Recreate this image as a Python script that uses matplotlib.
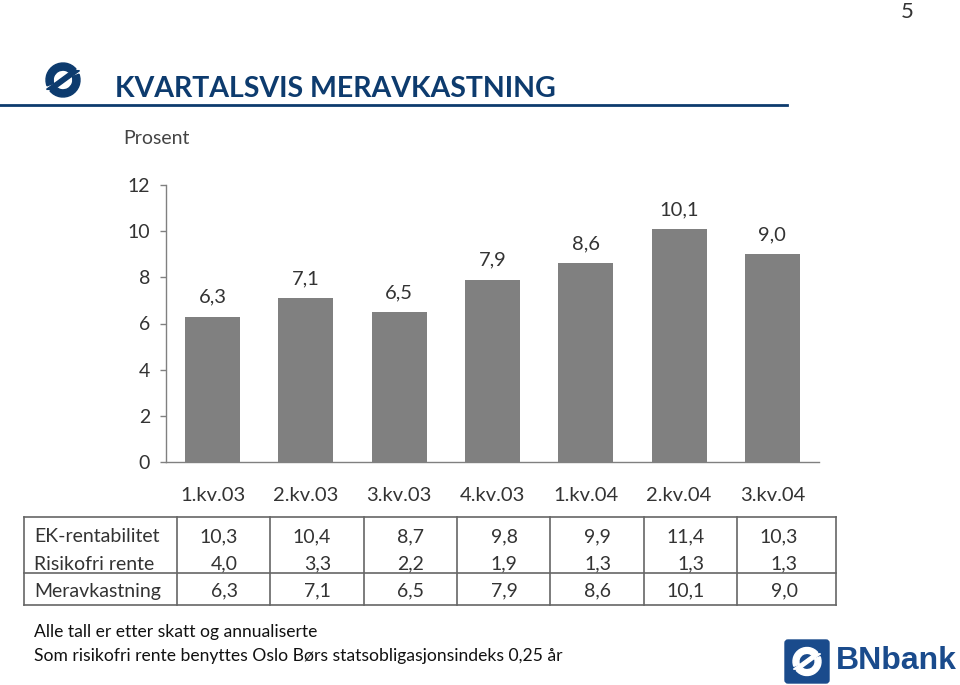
import matplotlib
matplotlib.use("Agg")
import matplotlib.pyplot as plt
from matplotlib.transforms import blended_transform_factory
from matplotlib.patches import Wedge, Polygon, FancyBboxPatch
from matplotlib.lines import Line2D

categories = ["1.kv.03", "2.kv.03", "3.kv.03", "4.kv.03", "1.kv.04", "2.kv.04", "3.kv.04"]
ek_rentabilitet = [10.3, 10.4, 8.7, 9.8, 9.9, 11.4, 10.3]
risikofri_rente = [4.0, 3.3, 2.2, 1.9, 1.3, 1.3, 1.3]
meravkastning = [6.3, 7.1, 6.5, 7.9, 8.6, 10.1, 9.0]
row_labels = ["EK-rentabilitet", "Risikofri rente", "Meravkastning"]
yticks = [0, 2, 4, 6, 8, 10, 12]

FONT = "Lato"
TXT = "#333333"
BLUE = "#0d3b6e"
GRAY = "#808080"

def fmt(v):
    return f"{v:.1f}".replace(".", ",")

W, H = 960, 685
fig = plt.figure(figsize=(W / 100, H / 100), dpi=100)
plt.rcParams['font.family'] = [FONT, 'DejaVu Sans']

def fx(px):
    return px / W

def fy(py):
    return 1 - py / H

ax = fig.add_axes([fx(166), fy(462), fx(819) - fx(166), fy(185) - fy(462)])
x = list(range(len(categories)))
ax.bar(x, meravkastning, width=0.59, color=GRAY, zorder=2)
ax.set_xlim(-0.5, 6.5)
ax.set_ylim(0, 12)
ax.set_yticks(yticks)
ax.set_yticklabels([str(t) for t in yticks], fontsize=14, color=TXT)
ax.set_xticks(x)
ax.set_xticklabels(categories, fontsize=14.5, color=TXT)
ax.tick_params(axis="x", length=0, pad=18)
ax.tick_params(axis="y", length=4.5, width=1, color=GRAY, pad=7, direction="out")
for s in ["top", "right"]:
    ax.spines[s].set_visible(False)
for s in ["left", "bottom"]:
    ax.spines[s].set_color(GRAY)
    ax.spines[s].set_linewidth(1)

for xi, v in zip(x, meravkastning):
    ax.annotate(fmt(v), (xi, v), xytext=(0, 14), textcoords="offset points",
                ha="center", va="center", fontsize=14.5, color=TXT)

# Table below the chart
tr = blended_transform_factory(ax.transData, fig.transFigure)
row_y = [537, 564, 591]
rows = [ek_rentabilitet, risikofri_rente, meravkastning]
for ry, lab, vals in zip(row_y, row_labels, rows):
    fig.text(fx(34), fy(ry), lab, fontsize=14, color=TXT, ha="left", va="center")
    for xi, v in zip(x, vals):
        fig.text(xi + 0.27, fy(ry), fmt(v), transform=tr, fontsize=14,
                 color=TXT, ha="right", va="center")

lc = "#666666"
lw = 1.2
top, mid, bot = fy(517), fy(573), fy(605)
left_tbl, right_tbl = fx(24), fx(836)
for yy in (top, mid, bot):
    fig.add_artist(Line2D([left_tbl, right_tbl], [yy, yy], color=lc, lw=lw))
for xx in (left_tbl, right_tbl):
    fig.add_artist(Line2D([xx, xx], [bot, top], color=lc, lw=lw))
for xi in x:
    fig.add_artist(Line2D([xi - 0.38, xi - 0.38], [bot, top], color=lc, lw=lw,
                          transform=tr))

# Title and header
fig.text(fx(115), fy(89), "KVARTALSVIS MERAVKASTNING", fontsize=20.5,
         fontweight="bold", color=BLUE, ha="left", va="center")
fig.add_artist(Line2D([0, fx(787)], [fy(105), fy(105)], color=BLUE, lw=2))
fig.text(fx(123), fy(138), "Prosent", fontsize=14, color="#444444",
         ha="left", va="center")
fig.text(fx(907), fy(12), "5", fontsize=16, color=TXT, ha="center", va="center")

# Footnotes
fig.text(fx(34), fy(632), "Alle tall er etter skatt og annualiserte",
         fontsize=12.6, color="#111111", ha="left", va="center")
fig.text(fx(34), fy(656),
         "Som risikofri rente benyttes Oslo Børs statsobligasjonsindeks 0,25 år",
         fontsize=12.6, color="#111111", ha="left", va="center")


def draw_symbol(axl, cx, cy, r, color):
    axl.add_patch(Wedge((cx, cy), r, 40, 200, width=r * 0.42, color=color))
    axl.add_patch(Wedge((cx, cy), r, 220, 380, width=r * 0.42, color=color))
    s = r * 0.22
    axl.add_patch(Polygon([(cx - r * 0.75 - s, cy - r * 0.55), (cx - r * 0.75 + s, cy - r * 0.55),
                           (cx + r * 0.75 + s, cy + r * 0.55), (cx + r * 0.75 - s, cy + r * 0.55)],
                          closed=True, color=color))


# Top-left logo
lax = fig.add_axes([fx(40), fy(98), fx(46), fy(62) - fy(98)])
lax.set_xlim(0, 46)
lax.set_ylim(0, 36)
lax.axis("off")
draw_symbol(lax, 23, 18, 17, BLUE)

# Bottom-right logo
bax = fig.add_axes([fx(784), fy(684), fx(46), fy(639) - fy(684)])
bax.set_xlim(0, 46)
bax.set_ylim(0, 45)
bax.axis("off")
bax.add_patch(FancyBboxPatch((1, 1), 44, 43, boxstyle="round,pad=0,rounding_size=3",
                             color="#1a4b8c"))
draw_symbol(bax, 23, 22.5, 14, "white")
fig.text(fx(836), fy(661), "BNbank", fontsize=23, fontweight="bold",
         color="#1a4b8c", family=["Liberation Sans", "DejaVu Sans"],
         ha="left", va="center")

fig.savefig("out.png", dpi=100)
